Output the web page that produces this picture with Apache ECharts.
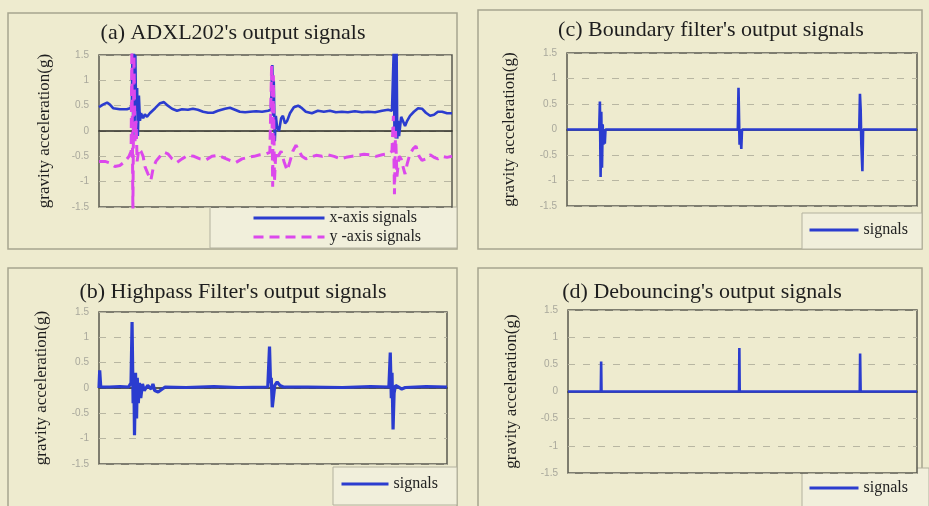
<!DOCTYPE html>
<html>
<head>
<meta charset="utf-8">
<script src="https://cdn.jsdelivr.net/npm/echarts@6/dist/echarts.min.js"></script>
<style>
    body { margin: 0; background: #eeebcf; }
    #chart { width: 929px; height: 506px; }
</style>
</head>
<body>
<div id="chart"></div>
<script>
// time axis is 0..100 (% of record), values in g
const xSignalA = [
    [0, 0.47], [1.1, 0.52], [2.3, 0.56], [3.1, 0.52], [4.0, 0.45], [5.9, 0.43], [7.9, 0.43], [8.8, 0.45],
    [9.3, 0.5], [9.5, 1.6], [9.7, -0.1], [9.9, 1.6], [10.1, 0.2], [10.3, 1.5], [10.5, 0.4], [10.8, 0.85],
    [11.0, -0.1], [11.3, 0.7], [11.6, 0.2], [11.9, 0.35], [12.5, 0.25], [13.0, 0.33], [13.6, 0.28],
    [14.4, 0.35], [15.9, 0.45], [17.3, 0.55], [18.4, 0.57], [19.5, 0.5], [20.7, 0.44], [22.1, 0.4],
    [23.5, 0.43], [25.2, 0.42], [26.6, 0.44], [28.0, 0.42], [29.5, 0.38], [30.9, 0.36], [32.3, 0.36],
    [33.7, 0.4], [35.7, 0.44], [37.1, 0.46], [38.5, 0.42], [39.9, 0.38], [41.4, 0.37], [42.8, 0.38],
    [44.5, 0.39], [46.2, 0.38], [47.9, 0.4], [48.7, 0.42], [49.1, 1.3], [49.3, 0.3], [49.5, 1.0],
    [49.8, -0.2], [50.1, 0.3], [50.4, 0.1], [51.0, 0.0], [51.6, 0.25], [52.1, 0.3], [52.7, 0.15],
    [53.3, 0.2], [54.1, 0.35], [55.2, 0.47], [56.4, 0.5], [57.5, 0.45], [58.6, 0.38], [60.3, 0.35],
    [62.0, 0.4], [63.7, 0.38], [65.4, 0.4], [67.1, 0.37], [68.8, 0.38], [70.5, 0.37], [72.5, 0.39],
    [74.5, 0.37], [76.2, 0.38], [78.2, 0.37], [80.2, 0.4], [81.9, 0.42], [83.0, 0.4], [83.5, 1.6],
    [83.7, 0.0], [83.9, 1.6], [84.1, -0.15], [84.3, 1.6], [84.5, -0.15], [84.7, 0.2], [85.0, -0.1],
    [85.6, 0.28], [86.1, 0.25], [86.7, 0.1], [87.3, 0.2], [88.1, 0.3], [89.2, 0.38], [90.4, 0.45],
    [91.5, 0.44], [92.6, 0.36], [93.8, 0.3], [94.9, 0.32], [96.0, 0.38], [97.2, 0.38], [98.6, 0.35],
    [100, 0.35]
]
const ySignalA = [
    [0, -0.6], [1.7, -0.6], [3.1, -0.63], [4.5, -0.7], [5.9, -0.68], [7.4, -0.6], [8.5, -0.5],
    [9.1, -0.4], [9.3, 1.6], [9.6, -1.6], [9.9, 1.5], [10.2, -0.2], [10.5, 0.2], [10.8, -0.6],
    [11.3, -0.35], [11.9, -0.4], [12.5, -0.5], [13.0, -0.7], [13.9, -0.85], [14.7, -0.97], [15.3, -0.75],
    [16.1, -0.6], [17.3, -0.5], [18.4, -0.42], [19.5, -0.45], [20.7, -0.55], [22.1, -0.62], [23.5, -0.55],
    [25.2, -0.48], [26.9, -0.5], [28.6, -0.55], [30.3, -0.57], [32.0, -0.5], [33.7, -0.48], [35.4, -0.53],
    [37.1, -0.58], [38.8, -0.62], [40.5, -0.55], [42.2, -0.52], [43.9, -0.5], [45.6, -0.47], [47.3, -0.45],
    [48.4, -0.42], [48.9, 1.3], [49.2, -1.1], [49.4, 1.1], [49.7, -1.0], [50.1, -0.4], [50.7, -0.5],
    [51.6, -0.4], [52.4, -0.6], [53.3, -0.78], [54.1, -0.6], [54.9, -0.4], [55.8, -0.28], [56.7, -0.4],
    [57.5, -0.5], [58.6, -0.55], [59.8, -0.52], [61.5, -0.48], [63.2, -0.5], [64.9, -0.47], [66.6, -0.5],
    [68.3, -0.55], [70.0, -0.52], [71.7, -0.5], [73.4, -0.48], [75.1, -0.46], [76.8, -0.47], [78.5, -0.5],
    [80.2, -0.47], [81.9, -0.45], [83.0, -0.4], [83.4, 0.3], [83.7, -1.25], [84.0, 0.0], [84.4, -0.9],
    [85.0, -0.5], [85.6, -0.55], [86.1, -0.7], [86.7, -0.85], [87.3, -0.65], [88.1, -0.45], [89.0, -0.35],
    [89.8, -0.3], [90.7, -0.5], [91.5, -0.58], [92.6, -0.55], [93.8, -0.47], [94.9, -0.52], [96.0, -0.55],
    [97.2, -0.5], [98.6, -0.52], [100, -0.5]
]
const highpassB = [
    [0, 0.0], [0.2, 0.35], [0.5, 0.02], [3, 0.02], [6, 0.03], [8.5, 0.02], [9.2, 0.1], [9.5, 1.3],
    [9.8, -0.3], [10.0, 0.3], [10.2, -0.93], [10.5, 0.3], [10.8, -0.6], [11.0, 0.2], [11.3, -0.3],
    [11.6, 0.1], [12.0, -0.2], [12.5, 0.08], [13.0, -0.05], [14.0, 0.05], [15.0, -0.02], [15.5, 0.08],
    [16.0, -0.05], [17.0, -0.08], [18.0, -0.03], [19.0, 0.02], [25, 0.01], [33, 0.03], [40, 0.01],
    [48.5, 0.02], [49.0, 0.82], [49.3, 0.1], [49.5, 0.2], [49.8, -0.38], [50.1, -0.2], [50.5, 0.05],
    [51.2, 0.12], [52.0, 0.05], [53.0, 0.02], [60, 0.02], [70, 0.01], [78, 0.03], [83.3, 0.02],
    [83.7, 0.7], [84.0, -0.2], [84.2, 0.3], [84.5, -0.82], [84.8, -0.1], [85.2, 0.05], [86.0, 0.02],
    [87.0, -0.02], [88.0, 0.01], [94, 0.03], [100, 0.02]
]
const boundaryC = [
    [0, 0], [9.2, 0], [9.4, 0.55], [9.6, -0.93], [9.8, 0.35], [10.0, -0.75], [10.2, 0.1], [10.4, -0.3],
    [10.6, 0.0], [10.8, -0.28], [11.0, 0], [48.8, 0], [49.0, 0.82], [49.3, -0.3], [49.5, 0.0],
    [49.8, -0.38], [50.0, 0], [83.5, 0], [83.7, 0.7], [83.9, 0.4], [84.1, -0.3], [84.4, -0.82],
    [84.6, 0], [100, 0]
]
const debounceD = [
    [0, 0], [9.4, 0], [9.5, 0.55], [9.6, 0], [49.0, 0], [49.1, 0.8], [49.2, 0], [83.6, 0],
    [83.7, 0.7], [83.85, 0], [100, 0]
]
const panelTitles = [
    "(a) ADXL202's output signals",
    "(b) Highpass Filter's output signals",
    "(c) Boundary filter's output signals",
    "(d) Debouncing's output signals"
]
const yName = 'gravity acceleration(g)'

const blue = '#2b3ccf'
const magenta = '#dc48ec'
const serif = '"Liberation Serif", "DejaVu Serif", serif'

// grid boxes: a, b, c, d
const grids = [
    { left: 99, top: 55, width: 353, height: 152 },
    { left: 99, top: 312, width: 348, height: 152 },
    { left: 567, top: 53, width: 350, height: 153 },
    { left: 568, top: 310, width: 349, height: 163 }
]
const titlePos = [[233, 22], [233, 281], [711, 19], [702, 281]]
const nameGaps = [46, 49, 49, 48]

let dom = echarts.init(document.getElementById('chart'))

function panelBox(x, y, w, h) {
    return {
        type: 'rect', z: -10, shape: { x: x, y: y, width: w, height: h },
        style: { fill: '#eeebcf', stroke: '#a7a590', lineWidth: 1.5 }
    }
}
function legendBox(x, y, w, h) {
    return {
        type: 'rect', z: -5, shape: { x: x, y: y, width: w, height: h },
        style: { fill: '#f1efdb', stroke: '#b3b19e', lineWidth: 1 }
    }
}
function legendAt(names, left, top, iconW, extra) {
    return Object.assign({
        data: names, left: left, top: top, padding: 0,
        itemWidth: iconW, itemHeight: 12, itemGap: 3,
        itemStyle: { opacity: 0 },
        lineStyle: { width: 3 },
        textStyle: { fontFamily: serif, fontSize: 16, color: '#222' }
    }, extra || {})
}

let option = {
    backgroundColor: '#eeebcf',
    animation: false,
    graphic: [
        panelBox(8, 13, 449, 236),
        panelBox(8, 268, 449, 240),
        panelBox(478, 10, 444, 239),
        panelBox(478, 268, 444, 240),
        legendBox(210, 207, 247, 41),
        legendBox(333, 467, 124, 38),
        legendBox(802, 213, 120, 36),
        legendBox(802, 468, 127, 40)
    ],
    title: panelTitles.map((t, i) => ({
        text: t,
        left: titlePos[i][0],
        top: titlePos[i][1],
        textAlign: 'center',
        padding: 0,
        textStyle: { fontFamily: serif, fontSize: 22, fontWeight: 'normal', color: '#1e1e1e' }
    })),
    legend: [
        legendAt(['x-axis signals', 'y -axis signals'], 252, 210, 71, { orient: 'vertical' }),
        legendAt(['signals'], 340, 476, 47),
        legendAt(['signals'], 808, 222, 49),
        legendAt(['signals'], 808, 480, 49)
    ],
    grid: grids.map(g => Object.assign({
        show: true, backgroundColor: '#eeebcf', borderColor: '#5a5a50', borderWidth: 1.5
    }, g)),
    xAxis: grids.map((g, i) => ({
        type: 'value', gridIndex: i, min: 0, max: 100,
        axisLabel: { show: false },
        axisTick: { show: false },
        splitLine: { show: false },
        axisLine: { onZero: true, lineStyle: { color: '#2a2a26', width: 1.5 } }
    })),
    yAxis: grids.map((g, i) => ({
        type: 'value', gridIndex: i, min: -1.5, max: 1.5, interval: 0.5,
        name: yName, nameLocation: 'middle', nameGap: nameGaps[i],
        nameTextStyle: { fontFamily: serif, fontSize: 17, color: '#1e1e1e' },
        axisLine: { show: false },
        axisTick: { show: false },
        axisLabel: { color: '#a9a89c', fontSize: 10, margin: 10, fontFamily: 'Liberation Sans' },
        splitLine: { lineStyle: { color: '#b8b6a2', type: [7, 8], width: 1 } }
    })),
    series: [
        {
            name: 'x-axis signals', type: 'line', xAxisIndex: 0, yAxisIndex: 0, data: xSignalA,
            symbol: 'none', lineStyle: { color: blue, width: 2.6 }, itemStyle: { color: blue }
        },
        {
            name: 'y -axis signals', type: 'line', xAxisIndex: 0, yAxisIndex: 0, data: ySignalA,
            symbol: 'none', lineStyle: { color: magenta, width: 3, type: [10, 6] }, itemStyle: { color: magenta }
        },
        {
            name: 'signals', type: 'line', xAxisIndex: 1, yAxisIndex: 1, data: highpassB,
            symbol: 'none', lineStyle: { color: blue, width: 3.2 }, itemStyle: { color: blue }
        },
        {
            name: 'signals', type: 'line', xAxisIndex: 2, yAxisIndex: 2, data: boundaryC,
            symbol: 'none', lineStyle: { color: blue, width: 2.6 }, itemStyle: { color: blue }
        },
        {
            name: 'signals', type: 'line', xAxisIndex: 3, yAxisIndex: 3, data: debounceD,
            symbol: 'none', lineStyle: { color: blue, width: 2.6 }, itemStyle: { color: blue }
        }
    ]
}
dom.setOption(option)
</script>
</body>
</html>
